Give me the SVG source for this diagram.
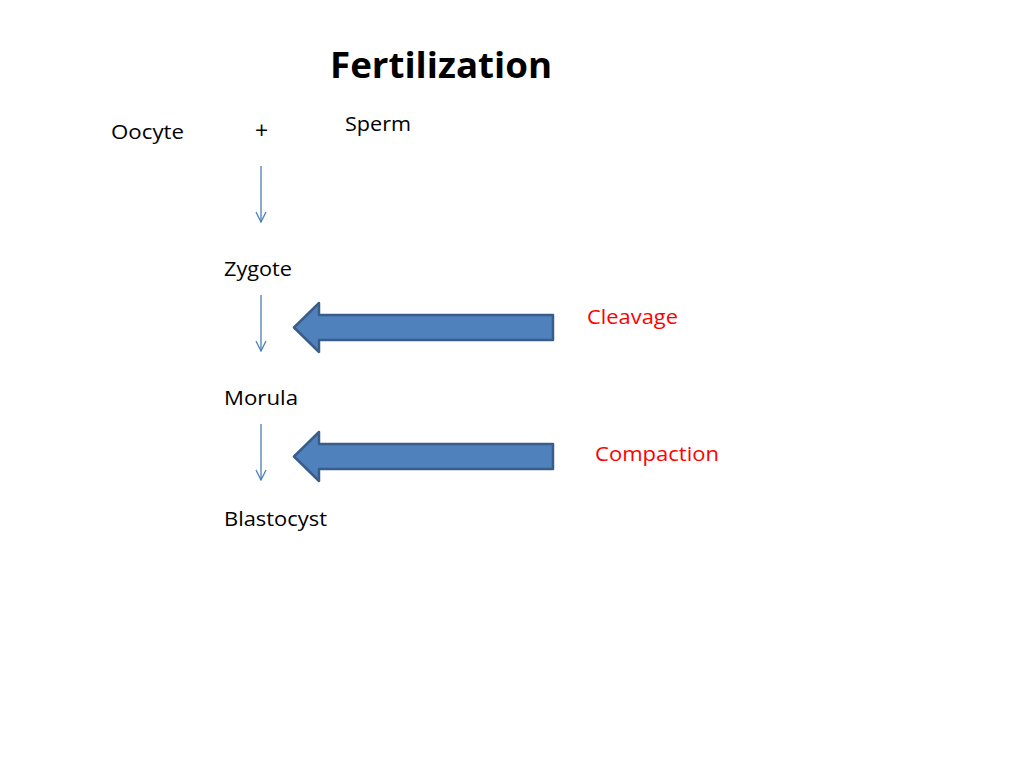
<svg xmlns="http://www.w3.org/2000/svg" width="1024" height="768" viewBox="0 0 1024 768">
<defs>
<style>
.t{font-family:"Open Sans","Liberation Sans",sans-serif;font-size:20px;fill:#000}
.r{fill:#FF0000}
.ttl{font-family:"Open Sans","Liberation Sans",sans-serif;font-size:36px;font-weight:bold;fill:#000}
.thin{stroke:#4A7EBB;stroke-width:1.3;fill:none}
.blk{fill:#4F81BD;stroke:#385D8A;stroke-width:2.5;stroke-linejoin:round}
</style>
<marker id="open" viewBox="0 0 12 12" refX="11" refY="6" markerWidth="12" markerHeight="12" markerUnits="userSpaceOnUse" orient="auto">
<path d="M1,1 L11,6 L1,11" fill="none" stroke="#4A7EBB" stroke-width="1.3"/>
</marker>
</defs>
<rect width="1024" height="768" fill="#fff"/>
<g id="title"><text class="ttl" x="330" y="78" textLength="222" lengthAdjust="spacingAndGlyphs">Fertilization</text></g>
<g id="oocyte"><text class="t" x="111" y="139" textLength="73" lengthAdjust="spacingAndGlyphs">Oocyte</text></g>
<g id="plus"><text class="t" x="255" y="139" style="font-size:23px">+</text></g>
<g id="sperm"><text class="t" x="345" y="131" textLength="66" lengthAdjust="spacingAndGlyphs">Sperm</text></g>
<g id="zygote"><text class="t" x="224" y="276" textLength="68" lengthAdjust="spacingAndGlyphs">Zygote</text></g>
<g id="morula"><text class="t" x="224" y="405" textLength="74" lengthAdjust="spacingAndGlyphs">Morula</text></g>
<g id="blastocyst"><text class="t" x="224" y="526" textLength="103" lengthAdjust="spacingAndGlyphs">Blastocyst</text></g>
<g id="cleavage"><text class="t r" x="587" y="324" textLength="91" lengthAdjust="spacingAndGlyphs">Cleavage</text></g>
<g id="compaction"><text class="t r" x="595" y="461" textLength="124" lengthAdjust="spacingAndGlyphs">Compaction</text></g>
<g id="connectors">
<line class="thin" x1="261" y1="166" x2="261" y2="222" marker-end="url(#open)"/>
<line class="thin" x1="261" y1="295" x2="261" y2="351" marker-end="url(#open)"/>
<line class="thin" x1="261" y1="424" x2="261" y2="480" marker-end="url(#open)"/>
<path class="blk" d="M553,315 L319,315 L319,303 L294,327.5 L319,352 L319,340 L553,340 Z"/>
<path class="blk" d="M553,444 L319,444 L319,432 L294,456.5 L319,481 L319,469 L553,469 Z"/>
</g>
</svg>
